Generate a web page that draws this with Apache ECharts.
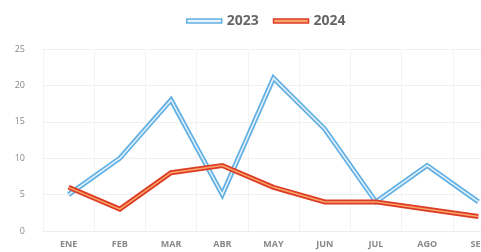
<!DOCTYPE html>
<html>
<head>
<meta charset="utf-8">
<script src="https://cdn.jsdelivr.net/npm/echarts@6/dist/echarts.min.js"></script>
<style>
html,body{margin:0;padding:0;background:#fff;}
#main{width:481px;height:252px;}
</style>
</head>
<body>
<div id="main"></div>
<script>
// meses
var months = ['ENE','FEB','MAR','ABR','MAY','JUN','JUL','AGO','SEP'];
// valores por año
var data2023 = [5, 10, 18, 5, 21, 14, 4, 9, 4];
var data2024 = [6, 3, 8, 9, 6, 4, 4, 3, 2];
var yTicks = [0, 5, 10, 15, 20, 25];

var blueOut = '#62b0e4', blueIn = '#e6f3fb';
var redOut = '#dd3b24', redIn = '#f6a66a';

function lineSeries(name, vals, color, width, z) {
	return {
		name: name,
		type: 'line',
		data: vals,
		symbol: 'none',
		z: z,
		lineStyle: { color: color, width: width, join: 'miter' },
		itemStyle: { color: color },
		emphasis: { disabled: true }
	};
}

var chart = echarts.init(document.getElementById('main'));
chart.setOption({
	animation: false,
	backgroundColor: '#fff',
	legend: {
		top: 9,
		left: 181,
		itemGap: 14,
		itemWidth: 35,
		itemHeight: 4,
		textStyle: { color: '#666', fontSize: 14, fontWeight: 'bold', fontFamily: 'Open Sans' },
		data: [
			{ name: '2023', icon: 'rect', itemStyle: { color: blueIn, borderColor: blueOut, borderWidth: 1.5 } },
			{ name: '2024', icon: 'rect', itemStyle: { color: redIn, borderColor: redOut, borderWidth: 1.5 } }
		]
	},
	grid: { left: 43, right: -23, top: 49, bottom: 21, containLabel: false, outerBoundsMode: 'none' },
	xAxis: {
		type: 'category',
		data: months,
		boundaryGap: true,
		axisLine: { lineStyle: { color: '#eee' } },
		axisTick: { show: false },
		splitLine: { show: true, lineStyle: { color: '#f3f3f3' } },
		axisLabel: { color: '#888', fontSize: 9, fontWeight: 'bold', fontFamily: 'Open Sans', margin: 9 }
	},
	yAxis: {
		type: 'value',
		min: yTicks[0],
		max: yTicks[yTicks.length - 1],
		interval: 5,
		axisLine: { show: false },
		axisTick: { show: false },
		splitLine: { lineStyle: { color: '#f0f0f0' } },
		axisLabel: { color: '#888', fontSize: 9, fontFamily: 'Open Sans', margin: 18 }
	},
	series: [
		lineSeries('2023', data2023, blueOut, 5, 2),
		lineSeries('2023', data2023, blueIn, 1.5, 3),
		lineSeries('2024', data2024, redOut, 5, 4),
		lineSeries('2024', data2024, redIn, 1.5, 5)
	]
});
</script>
</body>
</html>
